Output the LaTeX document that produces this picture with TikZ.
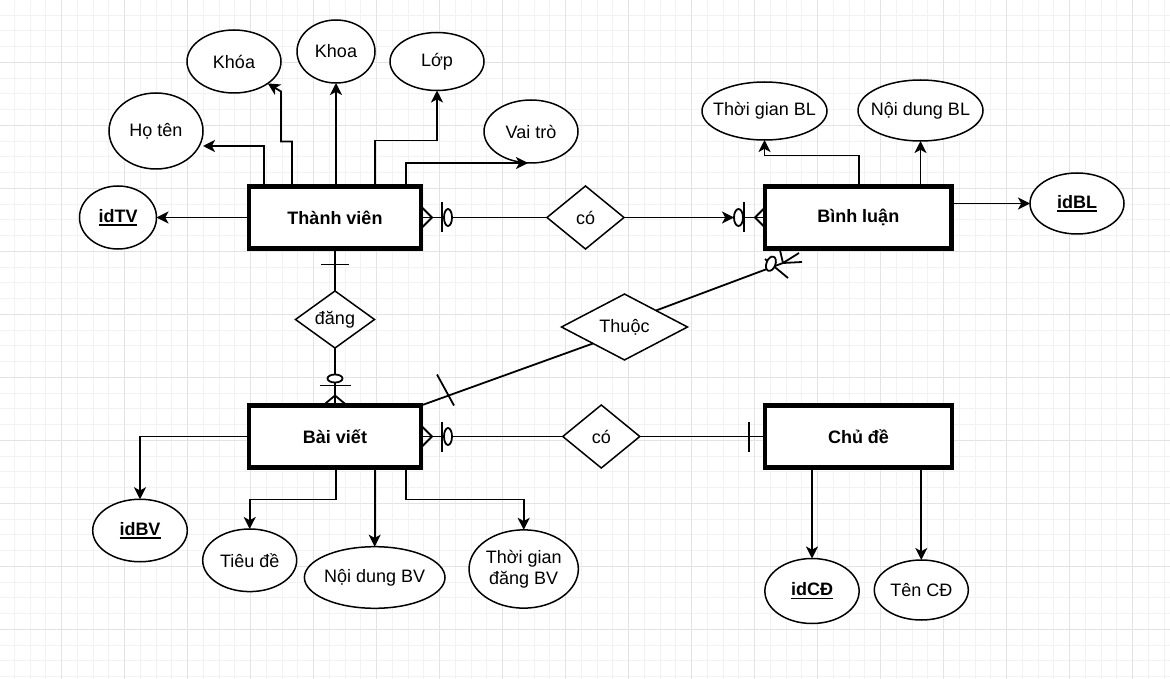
\documentclass[tikz,border=0pt]{standalone}
\usepackage{fontspec}
\setmainfont{Liberation Sans}
\usetikzlibrary{shapes.geometric,arrows.meta}
\newcommand{\ulbf}[1]{\textbf{\setbox0=\hbox{#1}\rlap{\rule[-3.4pt]{\wd0}{1.6pt}}\box0}}
\begin{document}
\begin{tikzpicture}[x=1pt,y=-1pt,
  every node/.style={outer sep=0pt, inner sep=0pt, font=\fontsize{18}{21.5}\selectfont},
  entity/.style={draw, line width=4.4pt, fill=white, minimum width=172pt, minimum height=62pt, font=\fontsize{18}{21.5}\selectfont\bfseries},
  attr/.style={draw, ellipse, line width=1.5pt, fill=white},
  rel/.style={draw, diamond, line width=1.5pt, fill=white},
  conn/.style={line width=1.8pt},
  ermark/.style={line width=1.8pt},
  arr/.style={conn, -{Stealth[length=12pt,width=12pt,inset=3.2pt]}},
  minorgrid/.style={draw=black!5, line width=1pt},
  majorgrid/.style={draw=black!11, line width=1pt},
]
\useasboundingbox (0,0) rectangle (1170,679);
\fill[white] (0,0) rectangle (1170,679);
% grid
\foreach \i in {0,...,74} \draw[minorgrid] ({-1.5+15.75*\i},0) -- ({-1.5+15.75*\i},679);
\foreach \j in {0,...,43} \draw[minorgrid] (0,{-0.7+15.75*\j}) -- (1170,{-0.7+15.75*\j});
\foreach \i in {1,...,18} \draw[majorgrid] ({-1.5+63*\i},0) -- ({-1.5+63*\i},679);
\foreach \j in {1,...,10} \draw[majorgrid] (0,{-0.7+63*\j}) -- (1170,{-0.7+63*\j});

% entities
\node[entity] (tv) at (335,217.5) {Thành viên};
\node[entity, minimum width=186.5pt] (bl) at (858.25,217.5) {Bình luận};
\node[entity] (bv) at (335,436.5) {Bài viết};
\node[entity, minimum width=187pt] (cd) at (858.5,436.5) {Chủ đề};

% attributes
\node[attr, minimum width=77pt, minimum height=63pt, label={center:\ulbf{idTV}}] (idtv) at (118,217.5) {};
\node[attr, minimum width=94pt, minimum height=76pt, label={center:Họ tên}] (hoten) at (156,131) {};
\node[attr, minimum width=94pt, minimum height=63pt, label={center:Khóa}] (khoa1) at (234,61.5) {};
\node[attr, minimum width=78pt, minimum height=63pt, label={center:Khoa}] (khoa) at (336,51.5) {};
\node[attr, minimum width=94pt, minimum height=58pt, label={center:Lớp}] (lop) at (437,61.5) {};
\node[attr, minimum width=94pt, minimum height=63pt, label={center:Vai trò}] (vaitro) at (531,131.5) {};
\node[attr, minimum width=125pt, minimum height=58pt, label={center:Thời gian BL}] (tgbl) at (764.5,111) {};
\node[attr, minimum width=125pt, minimum height=61pt, label={center:Nội dung BL}] (ndbl) at (920.5,110.5) {};
\node[attr, minimum width=94pt, minimum height=61pt, label={center:\ulbf{idBL}}] (idbl) at (1077,203.5) {};
\node[attr, minimum width=94.6pt, minimum height=62.5pt, label={center:\ulbf{idBV}}] (idbv) at (140,530.5) {};
\node[attr, minimum width=94pt, minimum height=62.6pt, label={center:Tiêu đề}] (tieude) at (249.7,560.3) {};
\node[attr, minimum width=140.6pt, minimum height=61.6pt, label={center:Nội dung BV}] (ndbv) at (374.7,577.5) {};
\node[attr, minimum width=109.3pt, minimum height=78.3pt, label={[align=center]center:Thời gian\\đăng BV}] (tgbv) at (523.7,569) {};
\node[attr, minimum width=94.3pt, minimum height=65pt, label={center:\ulbf{idCĐ}}] (idcd) at (812,591) {};
\node[attr, minimum width=94pt, minimum height=60pt, label={center:Tên CĐ}] (tencd) at (921.3,590) {};

% relationships
\node[rel, minimum width=77pt, minimum height=63pt] (co1) at (585.5,217.5) {có};
\node[rel, minimum width=79pt, minimum height=47pt] (dang) at (335,319.5) {đăng};
\node[rel, minimum width=126pt, minimum height=62pt] (thuoc) at (624.5,327) {Thuộc};
\node[rel, minimum width=77pt, minimum height=63pt] (co2) at (601.3,436.5) {có};
\coordinate (thfoot) at (783,263);

% attribute connectors
\draw[arr] (tv) -- (idtv);
\draw[arr] ([xshift=-71pt]tv.north) |- ([yshift=-15pt]hoten.east);
\draw[arr] ([xshift=-43pt]tv.north) -- ++(0,-45) -- ++(-11,0) -- ++(0,-50) -- (khoa1.-33);
\draw[arr] (tv.north -| khoa.south) -- (khoa.south);
\draw[arr] ([xshift=40pt]tv.north) -- ++(0,-46) -| (lop.south);
\draw[arr] ([xshift=71pt]tv.north) |- ([xshift=-3pt]vaitro.south);

\draw[arr] ([xshift=1pt]bl.north) -- ++(0,-31) -| (tgbl.south);
\draw[arr] (bl.north -| ndbl.south) -- (ndbl.south);
\draw[arr] (bl.east |- idbl.west) -- (idbl.west);

\draw[arr] (bv.west) -| (idbv.north);
\draw[arr] ([xshift=1pt]bv.south) -- ++(0,32) -| (tieude.north);
\draw[arr] (bv.south -| ndbv.north) -- (ndbv.north);
\draw[arr] ([xshift=71pt]bv.south) -- ++(0,32) -| (tgbv.north);

\draw[arr] (cd.south -| idcd.north) -- (idcd.north);
\draw[arr] (cd.south -| tencd.north) -- (tencd.north);

% relationship connectors
\draw[conn] (tv.east) -- (co1.west);
\draw[arr] (co1.east) -- ([xshift=-31pt]bl.west);
\draw[conn] ([xshift=-31pt]bl.west) -- (bl.west);
\draw[conn] (tv.south) -- (dang.north);
\draw[conn] (dang.south) -- (bv.north);
\draw[conn] (bv.east) -- (co2.west);
\draw[conn] (co2.east) -- (cd.west);
\draw[conn] (bv.north east) -- (thuoc.south west);
\draw[conn] (thuoc.north east) -- (thfoot);

% ER marks: Thanh vien - co
\draw[ermark] ([yshift=11pt]tv.east) -- ([xshift=11pt]tv.east) -- ([yshift=-11pt]tv.east);
\draw[ermark] ([xshift=21pt,yshift=15pt]tv.east) -- ([xshift=21pt,yshift=-15pt]tv.east);
\draw[ermark, fill=white] ([xshift=27pt]tv.east) ellipse [x radius=4pt, y radius=8.5pt];
% co - Binh luan
\draw[ermark, fill=white] ([xshift=-26.5pt]bl.west) ellipse [x radius=4.5pt, y radius=8.5pt];
\draw[ermark] ([xshift=-21pt,yshift=15pt]bl.west) -- ([xshift=-21pt,yshift=-15pt]bl.west);
\draw[ermark] ([yshift=10pt]bl.west) -- ([xshift=-10pt]bl.west) -- ([yshift=-10pt]bl.west);
% Bai viet - co
\draw[ermark] ([yshift=11pt]bv.east) -- ([xshift=11pt]bv.east) -- ([yshift=-11pt]bv.east);
\draw[ermark] ([xshift=21pt,yshift=15pt]bv.east) -- ([xshift=21pt,yshift=-15pt]bv.east);
\draw[ermark, fill=white] ([xshift=27pt]bv.east) ellipse [x radius=4pt, y radius=8.5pt];
% co - Chu de
\draw[ermark] ([xshift=-16pt,yshift=15pt]cd.west) -- ([xshift=-16pt,yshift=-15pt]cd.west);
% Thanh vien - dang - Bai viet
\draw[ermark] ([xshift=-14pt,yshift=-16pt]tv.south) -- ([xshift=14pt,yshift=-16pt]tv.south);
\draw[ermark] ([xshift=-12pt]bv.north) -- ([yshift=10pt]bv.north) -- ([xshift=12pt]bv.north);
\draw[ermark] ([xshift=-15.5pt,yshift=20pt]bv.north) -- ([xshift=15.5pt,yshift=20pt]bv.north);
\draw[ermark, fill=white] ([yshift=27pt]bv.north) ellipse [x radius=7.5pt, y radius=4pt];
% Bai viet - Thuoc - Binh luan
\draw[ermark] ([xshift=16pt,yshift=31pt]bv.north east) -- ([xshift=33pt]bv.north east);
\draw[ermark] (thfoot) -- ++(-4,-17);
\draw[ermark] (thfoot) -- ++(16,-10);
\draw[ermark] (thfoot) -- ++(19,-1);
\draw[ermark] ([shift={(-18,-4)}]thfoot) -- ++(23,19);
\draw[ermark, fill=white, rotate around={-21:(thfoot)}] ([shift={(-11,5)}]thfoot) ellipse [x radius=4.5pt, y radius=7.5pt];
\end{tikzpicture}
\end{document}
